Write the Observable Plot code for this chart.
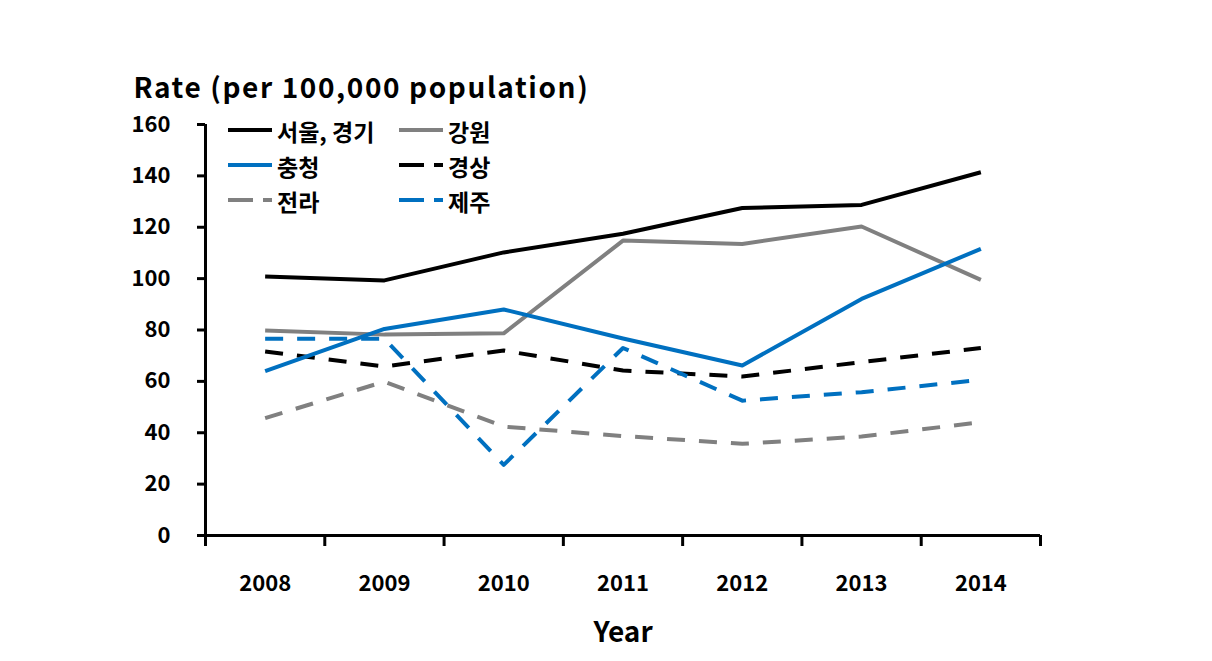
<!DOCTYPE html>
<html><head><meta charset="utf-8">
<script src="https://cdn.jsdelivr.net/npm/d3@7"></script>
<script src="https://cdn.jsdelivr.net/npm/@observablehq/plot@0.6"></script>
<style>
body{margin:0;background:#fff;}
#wrap{position:relative;width:1212px;height:661px;}
#wrap svg.legend{position:absolute;left:0;top:0;pointer-events:none;}
</style></head><body><div id="wrap"></div>
<script>
const years = [2008, 2009, 2010, 2011, 2012, 2013, 2014];
const seriesNames = ["서울, 경기", "강원", "충청", "경상", "전라", "제주"];
const seoulGyeonggi = [100.8, 99.3, 110.2, 117.5, 127.5, 128.7, 141.4];
const gangwon = [79.8, 78.2, 78.7, 114.8, 113.5, 120.3, 99.5];
const chungcheong = [64.0, 80.4, 88.0, 76.7, 66.2, 92.1, 111.6];
const gyeongsang = [71.6, 65.8, 72.0, 64.2, 61.9, 67.5, 73.0];
const jeolla = [45.7, 59.9, 42.4, 38.7, 35.7, 38.5, 44.1];
const jeju = [76.6, 76.6, 27.5, 73.0, 52.5, 55.8, 60.6];
const yTicks = [0, 20, 40, 60, 80, 100, 120, 140, 160];
const yLabel = "Rate (per 100,000 population)";
const xLabel = "Year";

const seriesValues = [seoulGyeonggi, gangwon, chungcheong, gyeongsang, jeolla, jeju];
const seriesColors = ["#000000", "#808080", "#0070C0", "#000000", "#808080", "#0070C0"];
const seriesDash = [null, null, null, "18,14", "18,14", "18,14"];
const drawOrder = [4, 3, 5, 1, 2, 0];

const font = "'Noto Sans CJK KR', 'Noto Sans', sans-serif";
const boundaries = years.map(y => y - 0.5).concat([years[years.length - 1] + 0.5]);

const lineMarks = drawOrder.map(i => {
  const data = years.map((y, j) => ({year: y, value: seriesValues[i][j], name: seriesNames[i]}));
  return Plot.line(data, {
    x: "year", y: "value", stroke: seriesColors[i], strokeWidth: 4,
    strokeDasharray: seriesDash[i] || undefined, strokeLinecap: "butt", strokeLinejoin: "round"
  });
});

const chart = Plot.plot({
  width: 1212, height: 661,
  marginLeft: 205, marginRight: 172, marginTop: 124, marginBottom: 126,
  style: {fontFamily: font, fontWeight: "bold", fontSize: "22px", color: "#000", background: "#fff"},
  x: {type: "linear", domain: [boundaries[0], boundaries[boundaries.length - 1]]},
  y: {domain: [0, 160]},
  marks: [
    ...lineMarks,
    Plot.ruleX([boundaries[0]], {stroke: "#000", strokeWidth: 3}),
    Plot.ruleY([0], {stroke: "#000", strokeWidth: 3}),
    Plot.axisY({ticks: yTicks, tickSize: 8, tickPadding: 27, strokeWidth: 3, label: null, tickFormat: d => String(d), fontSize: 22, fontWeight: "bold"}),
    Plot.axisX({ticks: boundaries, tickSize: 11, strokeWidth: 3, tickFormat: () => "", label: null}),
    Plot.axisX({ticks: years, tickSize: 0, tickPadding: 40, tickFormat: d => String(d), label: null, fontSize: 22, fontWeight: "bold"}),
    Plot.text([yLabel], {frameAnchor: "top-left", dx: -72, dy: -35, textAnchor: "start", lineAnchor: "middle", fontSize: 28, fontWeight: "bold"}),
    Plot.text([xLabel], {frameAnchor: "bottom", dy: 98, lineAnchor: "middle", fontSize: 28, fontWeight: "bold"})
  ]
});
d3.select(chart).selectAll("text").filter(function() { return this.textContent === yLabel; })
  .style("letter-spacing", "1.6px");
const wrap = document.getElementById("wrap");
wrap.appendChild(chart);

// Legend overlay (two columns, three rows)
const lg = d3.select(wrap).append("svg").attr("class", "legend")
  .attr("width", 1212).attr("height", 661)
  .style("font-family", font).style("font-weight", "bold").style("font-size", "23px");
const colX = [228, 399];
const rowY = [130, 165, 200];
seriesNames.forEach((name, i) => {
  const cx = colX[i % 2], cy = rowY[Math.floor(i / 2)];
  lg.append("line").attr("x1", cx).attr("x2", cx + 44).attr("y1", cy).attr("y2", cy)
    .attr("stroke", seriesColors[i]).attr("stroke-width", 4)
    .attr("stroke-dasharray", seriesDash[i] ? "25,10" : null);
  lg.append("text").attr("x", cx + 49).attr("y", cy + 5).attr("dominant-baseline", "middle")
    .attr("fill", "#000").text(name);
});
</script>
</body></html>
